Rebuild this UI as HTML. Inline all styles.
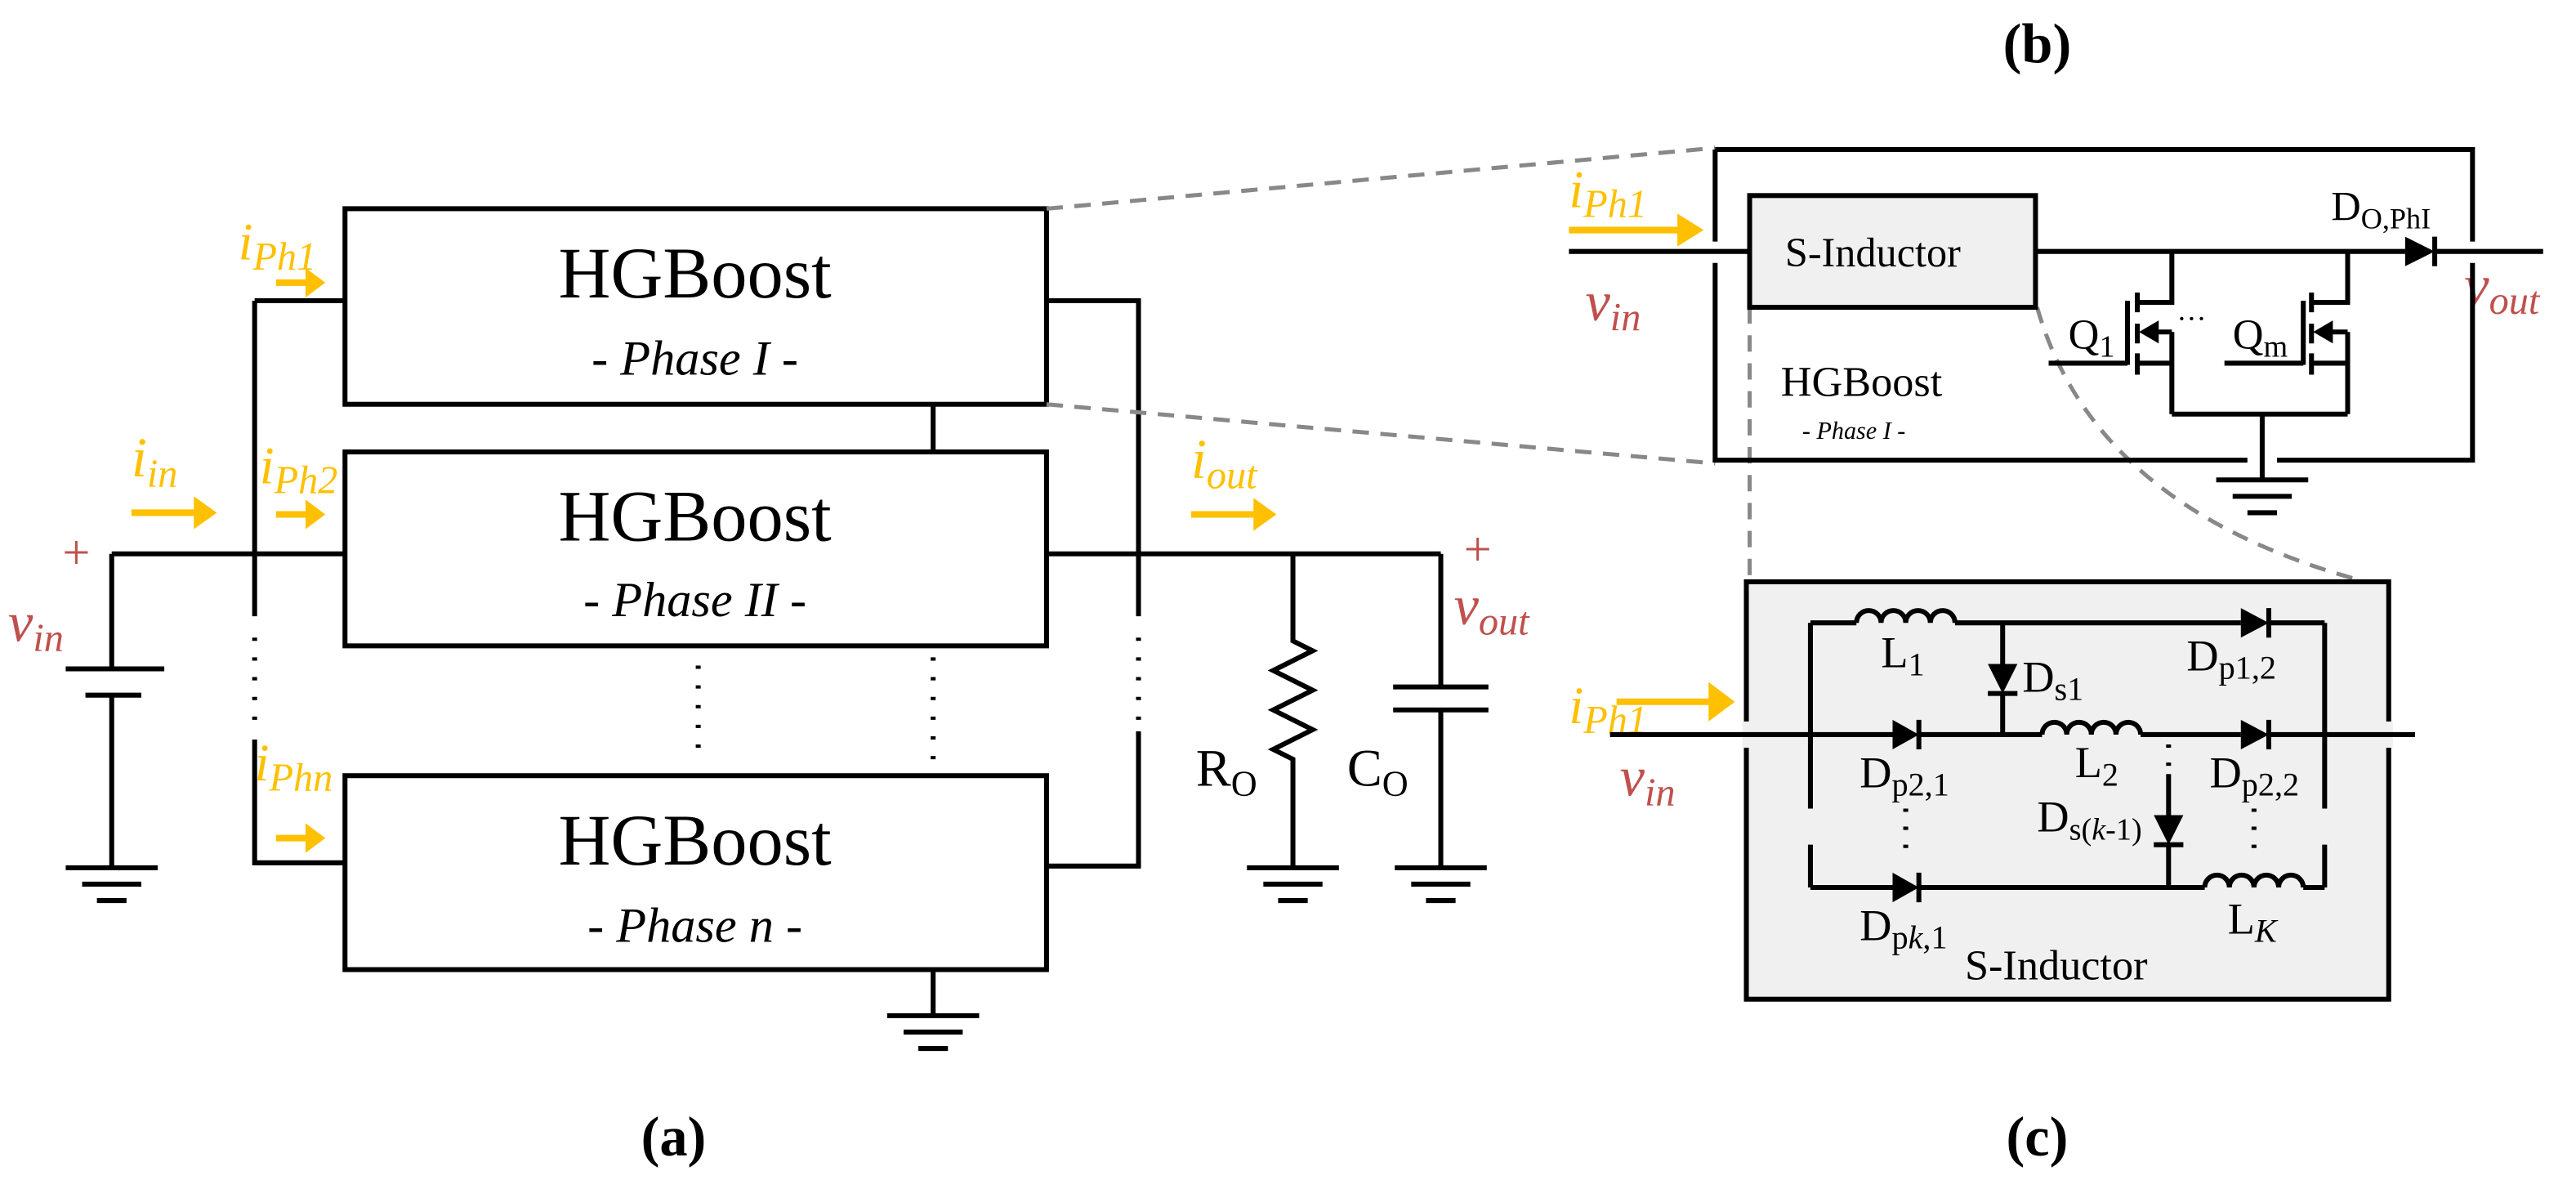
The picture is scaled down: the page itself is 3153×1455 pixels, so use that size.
<!DOCTYPE html>
<html><head><meta charset="utf-8"><style>
html,body{margin:0;padding:0;background:#fff}
svg{display:block}
text{font-family:"Liberation Serif",serif}
.o{fill:#FFC000}.r{fill:#C0504D}
</style></head><body>
<svg width="3153" height="1455" viewBox="0 0 1568 723.5" preserveAspectRatio="none" xmlns="http://www.w3.org/2000/svg">
<g stroke="#000" stroke-width="3" fill="none">
<rect x="210" y="127" width="427" height="119"/>
<rect x="210" y="275" width="427" height="118"/>
<rect x="210" y="472" width="427" height="118"/>
<path d="M155 183H210M155 183V375M155 450V525H210"/>
<path d="M155 388V440" stroke-dasharray="2 10"/>
<path d="M637 183H693V375M693 445V527H637"/>
<path d="M693 388V438" stroke-dasharray="2 10"/>
<path d="M568 246V275"/>
<path d="M568 400V465" stroke-dasharray="2 10"/>
<path d="M425 405V455" stroke-dasharray="2 10"/>
<path d="M568 590V618"/>
<path d="M68 337H210M68 337V407M40 407H100M52 423H86M68 423V528"/>
<path d="M637 337H877M787 337V390l12 6l-24 12l24 12l-24 12l24 12l-24 12l12 6V528M877 337V418M848 418H906M848 432H906M877 432V528"/>
</g>
<g stroke="#000" stroke-width="3">
<path d="M40 528H96M50 538H86M59 548H77"/>
<path d="M759 528H815M769 538H805M778 548H796"/>
<path d="M849 528H905M859 538H895M868 548H886"/>
<path d="M540 618H596M550 628H586M559 638H577"/>
<path d="M1349 292H1405M1359 302H1395M1368 312H1386"/>
</g>
<g text-anchor="middle" fill="#000">
<text x="423" y="181" font-size="44">HGBoost</text>
<text x="423" y="228" font-size="30" font-style="italic">- Phase I -</text>
<text x="423" y="329" font-size="44">HGBoost</text>
<text x="423" y="375" font-size="30" font-style="italic">- Phase II -</text>
<text x="423" y="526" font-size="44">HGBoost</text>
<text x="423" y="573" font-size="30" font-style="italic">- Phase <tspan>n</tspan> -</text>
<text x="410" y="703" font-size="34" font-weight="bold">(a)</text>
<text x="1240" y="38" font-size="34" font-weight="bold">(b)</text>
<text x="1240" y="703" font-size="34" font-weight="bold">(c)</text>
</g>
<g fill="#FFC000" stroke="none">
<path d="M168 170h18v-7l12 9l-12 9v-7h-18z"/>
<path d="M168 311h18v-7l12 9l-12 9v-7h-18z"/>
<path d="M168 508h18v-7l12 9l-12 9v-7h-18z"/>
<path d="M80 310h38v-8l14 10l-14 10v-8h-38z"/>
<path d="M725 311h38v-8l14 10l-14 10v-8h-38z"/>
<path d="M955 138h66v-8l16 10l-16 10v-8h-66z"/>
<path d="M984 425h56v-10l16 12l-16 12v-10h-56z"/>
</g>
<g font-style="italic">
<text x="145" y="158" font-size="32" class="o">i<tspan font-size="24" dy="6">Ph1</tspan></text>
<text x="158" y="294" font-size="32" class="o">i<tspan font-size="24" dy="6">Ph2</tspan></text>
<text x="155" y="475" font-size="32" class="o">i<tspan font-size="24" dy="6">Phn</tspan></text>
<text x="80" y="290" font-size="34" class="o">i<tspan font-size="24" dy="6">in</tspan></text>
<text x="725" y="291" font-size="34" class="o">i<tspan font-size="24" dy="6">out</tspan></text>
<text x="5" y="390" font-size="34" class="r">v<tspan font-size="24" dy="6">in</tspan></text>
<text x="885" y="380" font-size="34" class="r">v<tspan font-size="24" dy="6">out</tspan></text>
<text x="955" y="126" font-size="32" class="o">i<tspan font-size="24" dy="6">Ph1</tspan></text>
<text x="965" y="195" font-size="34" class="r">v<tspan font-size="24" dy="6">in</tspan></text>
<text x="1500" y="185" font-size="34" class="r">v<tspan font-size="24" dy="6">out</tspan></text>
<text x="955" y="440" font-size="32" class="o">i<tspan font-size="24" dy="6">Ph1</tspan></text>
<text x="986" y="484" font-size="34" class="r">v<tspan font-size="24" dy="6">in</tspan></text>
</g>
<text x="38" y="346" font-size="30" class="r">+</text>
<text x="891" y="344" font-size="30" class="r">+</text>
<text x="728" y="478" font-size="32">R<tspan font-size="22" dy="6">O</tspan></text>
<text x="820" y="478" font-size="32">C<tspan font-size="22" dy="6">O</tspan></text>
<g stroke="#888" stroke-width="2.5" fill="none" stroke-dasharray="10 7">
<path d="M637 127L1044 90"/>
<path d="M637 246L1044 282"/>
<path d="M1065 187V354"/>
<path d="M1240 187Q1275 310 1440 354"/>
</g>
<rect x="1065" y="119" width="174" height="68" fill="#f0f0f0" stroke="#000" stroke-width="3"/>
<g stroke="#000" stroke-width="3" fill="none">
<path d="M1044 91V147M1044 160V280H1368M1386 280H1505V160M1505 147V91H1044"/>
<path d="M955 153H1065M1239 153H1464M1482 153H1548"/>
<path d="M1322 153V184H1301M1301 178V190M1301 197V209M1301 215V228M1295 183V222M1247 221H1295M1301 221H1322M1322 202V252M1322 202H1312"/>
<path d="M1429 153V184H1407M1407 178V190M1407 197V209M1407 215V228M1402 183V222M1354 221H1402M1407 221H1429M1429 202V252M1429 202H1418M1322 252H1429M1377 252V292"/>
<path d="M1482 144V162"/>
</g>
<path d="M1464 144V162L1482 153Z" fill="#000"/>
<path d="M1302 202L1314 195V209Z M1408 202L1420 195V209Z" fill="#000"/>
<text x="1140" y="162" font-size="25" text-anchor="middle">S-Inductor</text>
<text x="1419" y="134" font-size="25">D<tspan font-size="18" dy="5">O,PhI</tspan></text>
<text x="1259" y="212" font-size="26">Q<tspan font-size="19" dy="5">1</tspan></text>
<text x="1359" y="212" font-size="26">Q<tspan font-size="19" dy="5">m</tspan></text>
<text x="1325" y="200" font-size="18">···</text>
<text x="1084" y="241" font-size="26">HGBoost</text>
<text x="1097" y="267" font-size="15" font-style="italic">- Phase I -</text>
<rect x="1063" y="354" width="391" height="254" fill="#f0f0f0" stroke="#000" stroke-width="3"/>
<g stroke="#f0f0f0" stroke-width="5"><path d="M1063 439V455M1454 439V455"/></g>
<g stroke="#000" stroke-width="3" fill="none">
<path d="M980 447H1152M1168 447H1243M1303 447H1364M1381 447H1470"/>
<path d="M1102 379V492M1102 514V540"/>
<path d="M1415 379V492M1415 514V540"/>
<path d="M1102 379H1130M1190 379H1364M1381 379H1415"/>
<path d="M1130 379a7.5 7.5 0 0 1 15 0a7.5 7.5 0 0 1 15 0a7.5 7.5 0 0 1 15 0a7.5 7.5 0 0 1 15 0"/>
<path d="M1243 447a7.5 7.5 0 0 1 15 0a7.5 7.5 0 0 1 15 0a7.5 7.5 0 0 1 15 0a7.5 7.5 0 0 1 15 0"/>
<path d="M1342 540a7.5 7.5 0 0 1 15 0a7.5 7.5 0 0 1 15 0a7.5 7.5 0 0 1 15 0a7.5 7.5 0 0 1 15 0"/>
<path d="M1102 540H1152M1168 540H1342M1402 540H1415"/>
<path d="M1219 379V404M1219 422V447"/>
<path d="M1320 471V496M1320 514V540"/>
<path d="M1210 422H1228M1311 514H1329"/>
<path d="M1168 438V456M1381 370V388M1381 438V456M1168 531V549"/>
</g>
<g stroke="#000" stroke-width="3" stroke-dasharray="2 9" fill="none">
<path d="M1320 453V469M1160 492V516M1372 492V516"/>
</g>
<g fill="#000">
<path d="M1152 438V456L1168 447Z"/>
<path d="M1364 370V388L1381 379Z"/>
<path d="M1364 438V456L1381 447Z"/>
<path d="M1152 531V549L1168 540Z"/>
<path d="M1210 404H1228L1219 422Z"/>
<path d="M1311 496H1329L1320 514Z"/>
</g>
<g font-size="27">
<text x="1145" y="406">L<tspan font-size="20" dy="5">1</tspan></text>
<text x="1231" y="421">D<tspan font-size="20" dy="5">s1</tspan></text>
<text x="1331" y="408">D<tspan font-size="20" dy="5">p1,2</tspan></text>
<text x="1132" y="479">D<tspan font-size="20" dy="5">p2,1</tspan></text>
<text x="1263" y="473">L<tspan font-size="20" dy="5">2</tspan></text>
<text x="1345" y="479">D<tspan font-size="20" dy="5">p2,2</tspan></text>
<text x="1240" y="506">D<tspan font-size="19" dy="5">s(<tspan font-style="italic">k</tspan>-1)</tspan></text>
<text x="1132" y="572">D<tspan font-size="20" dy="5">p<tspan font-style="italic">k</tspan>,1</tspan></text>
<text x="1356" y="568">L<tspan font-size="20" dy="5" font-style="italic">K</tspan></text>
<text x="1196" y="596" font-size="26">S-Inductor</text>
</g>
</svg>
</body></html>
